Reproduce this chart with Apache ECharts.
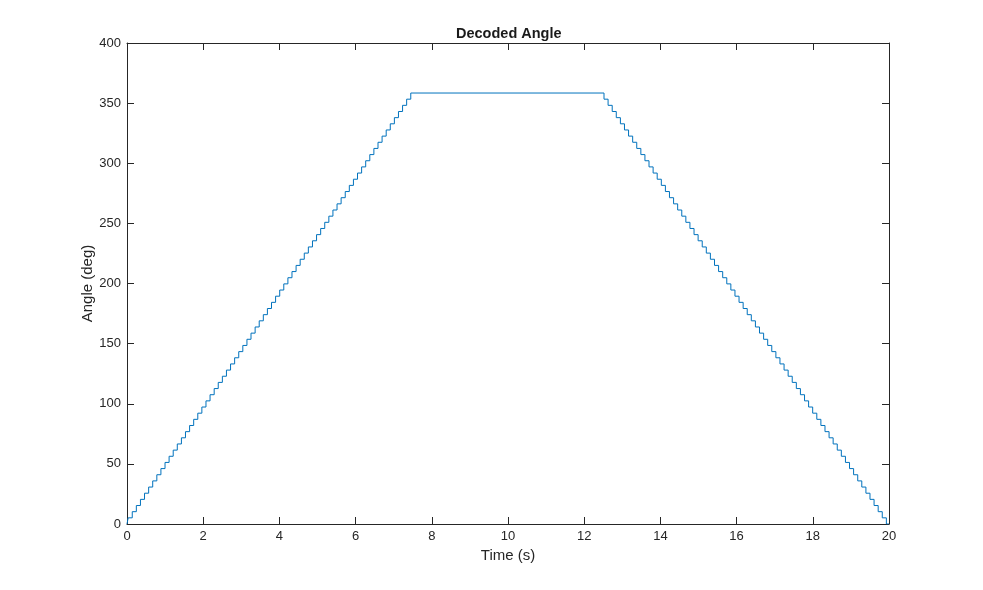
<!DOCTYPE html>
<html>
<head>
<meta charset="utf-8">
<script src="https://cdn.jsdelivr.net/npm/echarts@6/dist/echarts.min.js"></script>
<style>html,body{margin:0;padding:0;background:#fff}#c{width:983px;height:590px}</style>
</head>
<body>
<div id="c"></div>
<script>
// Step levels (deg), index 0..70
var levels = [0,5.12,10.24,15.36,20.48,25.6,30.72,35.84,40.96,46.08,51.2,56.32,61.44,66.56,71.68,76.8,81.92,87.04,92.16,97.28,102.4,107.52,112.64,117.76,122.88,128,133.12,138.24,143.36,148.48,153.6,158.72,163.84,168.96,174.08,179.2,184.32,189.44,194.56,199.68,204.8,209.92,215.04,220.16,225.28,230.4,235.52,240.64,245.76,250.88,256,261.12,266.24,271.36,276.48,281.6,286.72,291.84,296.96,302.08,307.2,312.32,317.44,322.56,327.68,332.8,337.92,343.04,348.16,353.28,358.4];
// Times (s) at which each rising step (to level 1..70) occurs
var riseTimes = [0.030,0.138,0.245,0.353,0.460,0.568,0.675,0.783,0.890,0.998,
1.105,1.213,1.320,1.428,1.535,1.643,1.750,1.858,1.965,2.073,
2.180,2.288,2.395,2.503,2.610,2.718,2.825,2.933,3.040,3.148,
3.255,3.363,3.470,3.578,3.685,3.793,3.900,4.008,4.115,4.223,
4.330,4.438,4.545,4.653,4.760,4.868,4.975,5.083,5.190,5.298,
5.405,5.513,5.620,5.728,5.835,5.943,6.050,6.158,6.265,6.373,
6.480,6.588,6.695,6.803,6.910,7.018,7.125,7.233,7.340,7.448];
// Times (s) at which each falling step (to level 69..0) occurs
var fallTimes = [12.520,12.627,12.735,12.842,12.950,13.057,13.164,13.272,13.379,13.487,
13.594,13.701,13.809,13.916,14.024,14.131,14.238,14.346,14.453,14.561,
14.668,14.775,14.883,14.990,15.098,15.205,15.312,15.420,15.527,15.635,
15.742,15.849,15.957,16.064,16.172,16.279,16.386,16.494,16.601,16.709,
16.816,16.923,17.031,17.138,17.246,17.353,17.460,17.568,17.675,17.783,
17.890,17.997,18.105,18.212,18.320,18.427,18.534,18.642,18.749,18.857,
18.964,19.071,19.179,19.286,19.394,19.501,19.608,19.716,19.823,19.931];
var tStart = 0, tEnd = 20;

var data = [[tStart, levels[0]]];
for (var k = 1; k < levels.length; k++) data.push([riseTimes[k-1], levels[k]]);
var n = levels.length - 1;
for (var j = 1; j <= fallTimes.length; j++) data.push([fallTimes[j-1], levels[n - j]]);
data.push([tEnd, levels[0]]);

var font = 'Liberation Sans, Arial, Helvetica, sans-serif';
var axCol = '#262626';
var chart = echarts.init(document.getElementById('c'), null, {renderer: 'canvas'});
var tickIn = {show: true, inside: true, length: 7, lineStyle: {color: axCol, width: 1}};
chart.setOption({
  animation: false,
  backgroundColor: '#fff',
  title: {
    text: 'Decoded Angle', left: 451, top: 21, padding: 5,
    textStyle: {fontFamily: font, fontSize: 14.5, fontWeight: 'bold', color: '#1a1a1a'}
  },
  grid: {left: 127, right: 94, top: 43, bottom: 66, containLabel: false},
  xAxis: [{
    type: 'value', min: 0, max: 20, interval: 2, position: 'bottom',
    name: 'Time (s)', nameLocation: 'middle', nameGap: 24,
    nameTextStyle: {fontFamily: font, fontSize: 15, color: axCol},
    axisLine: {show: true, onZero: false, lineStyle: {color: axCol, width: 1}},
    axisTick: tickIn,
    axisLabel: {fontFamily: font, fontSize: 13, color: axCol, margin: 6},
    splitLine: {show: false}
  }, {
    type: 'value', min: 0, max: 20, interval: 2, position: 'top',
    axisLine: {show: true, onZero: false, lineStyle: {color: axCol, width: 1}},
    axisTick: tickIn, axisLabel: {show: false}, splitLine: {show: false}
  }],
  yAxis: [{
    type: 'value', min: 0, max: 400, interval: 50, position: 'left',
    name: 'Angle (deg)', nameLocation: 'middle', nameGap: 32, nameRotate: 90,
    nameMoveOverlap: false,
    nameTextStyle: {fontFamily: font, fontSize: 15, color: axCol},
    axisLine: {show: true, onZero: false, lineStyle: {color: axCol, width: 1}},
    axisTick: tickIn,
    axisLabel: {fontFamily: font, fontSize: 13, color: axCol, margin: 6},
    splitLine: {show: false}
  }, {
    type: 'value', min: 0, max: 400, interval: 50, position: 'right',
    axisLine: {show: true, onZero: false, lineStyle: {color: axCol, width: 1}},
    axisTick: tickIn, axisLabel: {show: false}, splitLine: {show: false}
  }],
  series: [{
    type: 'line', xAxisIndex: 0, yAxisIndex: 0, data: data, step: 'end',
    showSymbol: false, symbol: 'none',
    lineStyle: {color: '#0072BD', width: 1}
  }]
});
</script>
</body>
</html>
